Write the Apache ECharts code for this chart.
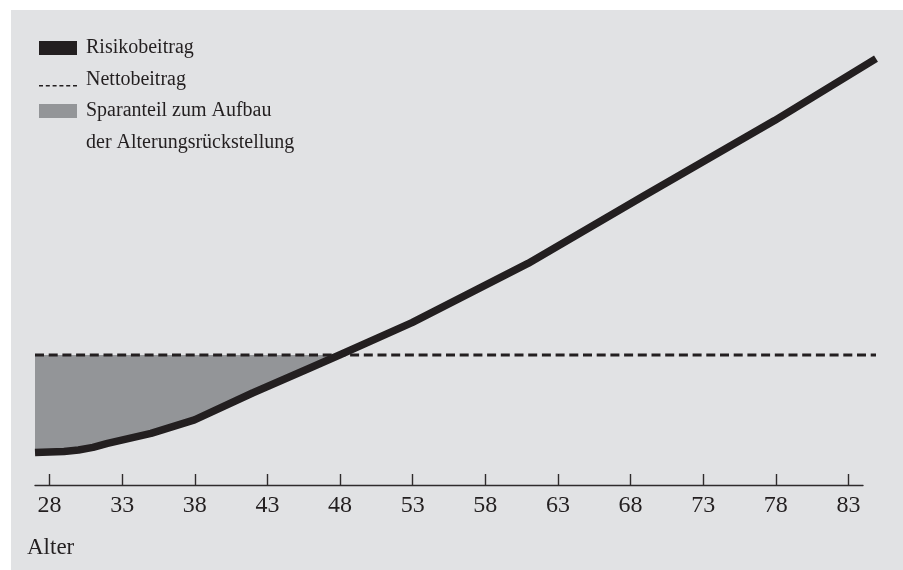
<!DOCTYPE html>
<html>
<head>
<meta charset="utf-8">
<script src="https://cdn.jsdelivr.net/npm/echarts@6/dist/echarts.min.js"></script>
<style>
  html, body { margin: 0; padding: 0; background: #ffffff; }
  #bg { position: absolute; left: 11px; top: 10px; right: 0; bottom: 0; background: #e1e2e4; }
  #chart { position: absolute; left: 0; top: 0; width: 903px; height: 570px; }
</style>
</head>
<body>
<div id="bg"></div>
<div id="chart"></div>
<script>
// ---- data ----
const ages = [27, 28, 29, 30, 31, 32, 35, 38, 42, 46, 48, 53, 61, 69, 78, 85];
const risikobeitrag = [8.1, 8.25, 8.4, 8.75, 9.4, 10.4, 12.9, 16.3, 23, 29.3, 32.5, 40.6, 55.4, 72.3, 91.1, 106.6];
const nettobeitrag = 32.5;
const tickValues = [28, 33, 38, 43, 48, 53, 58, 63, 68, 73, 78, 83];
const seriesNames = ['Risikobeitrag', 'Nettobeitrag', 'Sparanteil zum Aufbau der Alterungsrückstellung'];
const legendLine1 = 'Sparanteil zum Aufbau';
const legendLine2 = 'der Alterungsrückstellung';
const axisName = 'Alter';

// ---- derived ----
const risikoData = ages.map((a, i) => [a, risikobeitrag[i]]);
const nettoData = [[ages[0], nettobeitrag], [ages[ages.length - 1], nettobeitrag]];
const fillData = risikoData.filter(d => d[0] <= 48);

const FONT = 'Liberation Serif';
const INK = '#231f20';
const FILL = '#939598';

const dashIcon = 'path://M0,0 M0,12.4h4v1.6h-4z M6.8,12.4h4v1.6h-4z M13.6,12.4h4v1.6h-4z M20.4,12.4h4v1.6h-4z M27.2,12.4h4v1.6h-4z M34,12.4h4v1.6h-4z';

const chart = echarts.init(document.getElementById('chart'), null, { renderer: 'canvas' });
chart.setOption({
  animation: false,
  backgroundColor: 'transparent',
  textStyle: { fontFamily: FONT },
  title: {
    text: legendLine2,
    left: 86,
    top: 133,
    padding: 0,
    textStyle: { fontFamily: FONT, fontSize: 20, fontWeight: 'normal', color: INK, lineHeight: 20 }
  },
  legend: {
    orient: 'vertical',
    left: 39,
    top: 38,
    padding: 0,
    itemWidth: 38,
    itemHeight: 14,
    itemGap: 11.5,
    selectedMode: false,
    symbolKeepAspect: false,
    textStyle: { fontFamily: FONT, fontSize: 20, color: INK, lineHeight: 20, padding: [0, 0, 0, 4] },
    formatter: function (name) { return name === seriesNames[2] ? legendLine1 : name; },
    data: [
      { name: seriesNames[0], icon: 'rect', itemStyle: { color: INK, borderWidth: 0 } },
      { name: seriesNames[1], icon: dashIcon, itemStyle: { color: INK, borderWidth: 0 } },
      { name: seriesNames[2], icon: 'rect', itemStyle: { color: FILL, borderWidth: 0 } }
    ]
  },
  grid: [
    { left: 35, right: 27, top: 45, bottom: 85 },
    { left: 35, right: 40, top: 45, bottom: 85 }
  ],
  xAxis: [
    { gridIndex: 0, type: 'value', min: 27, max: 85, show: false },
    {
      gridIndex: 1, type: 'value', min: 27, max: 84,
      splitLine: { show: false },
      axisLine: { show: true, lineStyle: { color: '#2e2b2c', width: 1.4 } },
      axisTick: { show: true, inside: true, length: 11, customValues: tickValues, lineStyle: { color: '#2e2b2c', width: 1.4 } },
      axisLabel: { customValues: tickValues, margin: 9, fontFamily: FONT, fontSize: 24, color: INK },
      name: axisName,
      nameLocation: 'start',
      nameGap: 8,
      nameTextStyle: { fontFamily: FONT, fontSize: 23, color: INK, align: 'left', verticalAlign: 'top', padding: [51, 0, 0, 0] }
    }
  ],
  yAxis: [
    { gridIndex: 0, type: 'value', min: 0, max: 110, show: false },
    { gridIndex: 1, type: 'value', min: 0, max: 110, show: false }
  ],
  series: [
    {
      name: seriesNames[2],
      type: 'line',
      xAxisIndex: 0, yAxisIndex: 0,
      data: fillData,
      symbol: 'none',
      lineStyle: { width: 0 },
      itemStyle: { color: FILL },
      areaStyle: { color: FILL, opacity: 1, origin: nettobeitrag },
      z: 1
    },
    {
      name: seriesNames[1],
      type: 'line',
      xAxisIndex: 0, yAxisIndex: 0,
      data: nettoData,
      symbol: 'none',
      itemStyle: { color: INK },
      lineStyle: { color: INK, width: 3, type: [9, 4.7] },
      z: 2
    },
    {
      name: seriesNames[0],
      type: 'line',
      xAxisIndex: 0, yAxisIndex: 0,
      data: risikoData,
      symbol: 'none',
      itemStyle: { color: INK },
      lineStyle: { color: INK, width: 7.5, cap: 'butt', join: 'round' },
      z: 3
    }
  ]
});
</script>
</body>
</html>
